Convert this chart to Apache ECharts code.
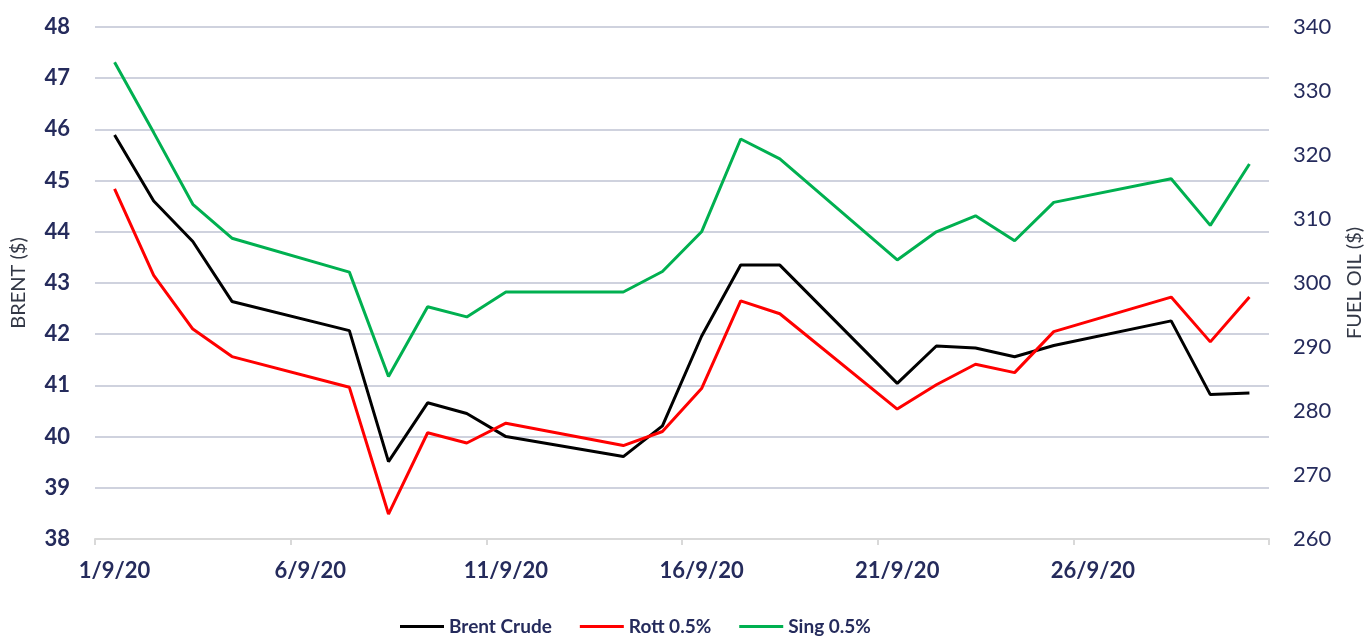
<!DOCTYPE html>
<html>
<head>
<meta charset="utf-8">
<title>Brent vs Fuel Oil</title>
<script src="https://cdn.jsdelivr.net/npm/echarts@6/dist/echarts.min.js"></script>
<style>
  html, body { margin: 0; padding: 0; background: #fff; }
  #chart { width: 1369px; height: 637px; }
</style>
</head>
<body>
<div id="chart"></div>
<script>
// trading days in Sept 2020 (weekends skipped)
var dates = ["1/9/20", "2/9/20", "3/9/20", "4/9/20", "7/9/20", "8/9/20", "9/9/20", "10/9/20",
  "11/9/20", "14/9/20", "15/9/20", "16/9/20", "17/9/20", "18/9/20", "21/9/20", "22/9/20",
  "23/9/20", "24/9/20", "25/9/20", "28/9/20", "29/9/20", "30/9/20"];

// Brent crude, left axis ($)
var brent = [45.89, 44.60, 43.81, 42.64, 42.07, 39.51, 40.66, 40.45, 40.00, 39.61, 40.21,
  41.96, 43.35, 43.35, 41.04, 41.77, 41.73, 41.56, 41.78, 42.26, 40.82, 40.85];

// fuel oil 0.5%, right axis ($)
var rott = [314.7, 301.2, 292.8, 288.5, 283.7, 263.9, 276.6, 275.0, 278.1, 274.6, 276.8,
  283.5, 297.2, 295.2, 280.3, 284.1, 287.3, 286.0, 292.4, 297.8, 290.8, 297.8];
var sing = [334.5, 323.5, 312.3, 307.0, 301.7, 285.4, 296.3, 294.7, 298.6, 298.6, 301.8,
  308.0, 322.5, 319.4, 303.6, 308.0, 310.5, 306.6, 312.6, 316.3, 309.0, 318.6];

// every calendar day of the month on the x axis (date axis like excel)
var days = [];
for (var d = 1; d <= 30; d++) {
  days.push(d + "/9/20");
}

function pairs(vals) {
  var out = [];
  for (var i = 0; i < dates.length; i++) {
    out.push([dates[i], vals[i]]);
  }
  return out;
}

var navy = "#252B5C";
var font = "Lato, 'Open Sans', sans-serif";

var chart = echarts.init(document.getElementById("chart"));
var option = {
  animation: false,
  textStyle: { fontFamily: font },
  grid: { left: 95, right: 100, top: 27, bottom: 98, outerBoundsMode: "none", containLabel: false },
  legend: {
    left: 395,
    top: 612,
    icon: "rect",
    itemWidth: 44,
    itemHeight: 3,
    itemGap: 28,
    textStyle: { fontFamily: font, fontSize: 19, fontWeight: "bold", color: navy },
    data: ["Brent Crude", "Rott 0.5%", "Sing 0.5%"]
  },
  xAxis: {
    type: "category",
    data: days,
    boundaryGap: true,
    axisLine: { lineStyle: { color: "#D9D9D9", width: 2 } },
    axisTick: { show: true, interval: 4, length: 6, lineStyle: { color: "#D9D9D9", width: 2 } },
    axisLabel: {
      interval: 4,
      margin: 21,
      fontFamily: font,
      fontSize: 22,
      fontWeight: "bold",
      color: navy
    },
    splitLine: { show: false }
  },
  yAxis: [
    {
      type: "value",
      min: 38,
      max: 48,
      interval: 1,
      name: "BRENT ($)",
      nameLocation: "middle",
      nameRotate: 90,
      nameGap: 66,
      nameTextStyle: { fontFamily: font, fontSize: 20, color: "#333846" },
      axisLine: { show: false },
      axisTick: { show: false },
      axisLabel: { margin: 25, fontFamily: font, fontSize: 22, fontWeight: "bold", color: navy },
      splitLine: { lineStyle: { color: "#CFD2DE", width: 2 } }
    },
    {
      type: "value",
      min: 260,
      max: 340,
      interval: 10,
      name: "FUEL OIL ($)",
      nameLocation: "middle",
      nameRotate: 90,
      nameGap: 76,
      nameTextStyle: { fontFamily: font, fontSize: 20, color: "#333846" },
      axisLine: { show: false },
      axisTick: { show: false },
      axisLabel: { margin: 24, fontFamily: font, fontSize: 22, color: navy },
      splitLine: { show: false }
    }
  ],
  series: [
    {
      name: "Brent Crude",
      type: "line",
      yAxisIndex: 0,
      data: pairs(brent),
      symbol: "none",
      color: "#000000",
      lineStyle: { width: 3, color: "#000000" }
    },
    {
      name: "Rott 0.5%",
      type: "line",
      yAxisIndex: 1,
      data: pairs(rott),
      symbol: "none",
      color: "#FF0000",
      lineStyle: { width: 3, color: "#FF0000" }
    },
    {
      name: "Sing 0.5%",
      type: "line",
      yAxisIndex: 1,
      data: pairs(sing),
      symbol: "none",
      color: "#00B050",
      lineStyle: { width: 3, color: "#00B050" }
    }
  ]
};
chart.setOption(option);
</script>
</body>
</html>
